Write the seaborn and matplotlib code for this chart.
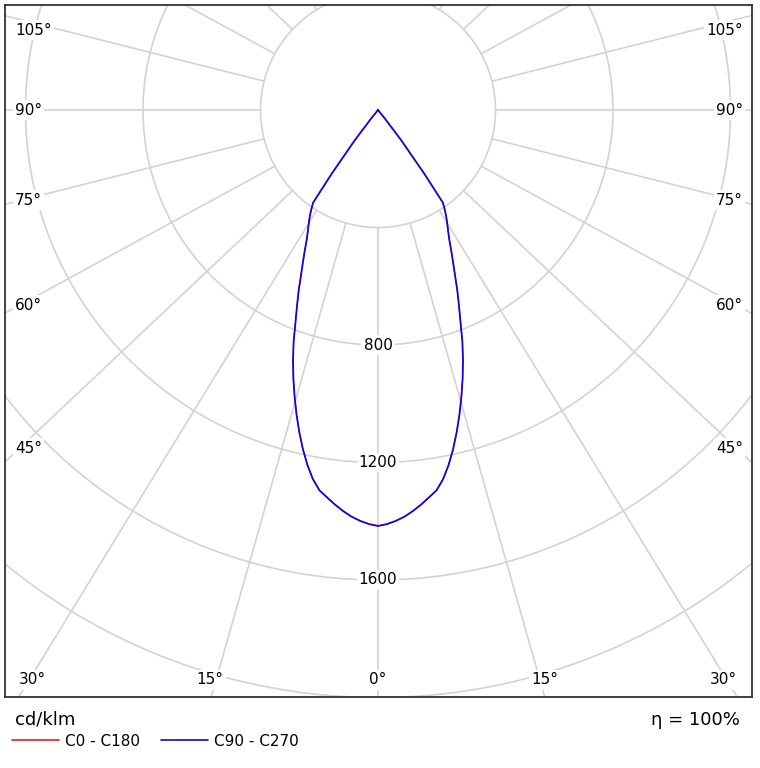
import numpy as np
import pandas as pd
import seaborn as sns
import matplotlib.pyplot as plt
from matplotlib.lines import Line2D

# ==========================================
# Data (cd/klm vs. gamma angle from nadir)
# ==========================================
GAMMA = [0, 1.25, 2.5, 3.75, 5, 6.25, 7.5, 8.75, 10, 11.25, 12.5, 13.75,
         15, 16.25, 17.5, 18.75, 20, 21.25, 22.5, 23.75, 25, 26.25, 27.5,
         28.75, 30, 31.25, 32.5, 33.75, 35, 36, 37.5, 39, 40, 45, 60, 90,
         120, 150, 180]
I_C0_C180 = [1416, 1410, 1400, 1387, 1370, 1351, 1330, 1310, 1276, 1232,
             1182, 1128, 1072, 1015, 958, 900, 840, 775, 720, 670, 620, 578,
             540, 505, 478, 455, 433, 410, 385, 268, 130, 35, 0, 0, 0, 0, 0,
             0, 0]
I_C90_C270 = [1416, 1410, 1400, 1387, 1370, 1351, 1330, 1310, 1276, 1232,
              1182, 1128, 1072, 1015, 958, 900, 840, 775, 720, 670, 620, 578,
              540, 505, 478, 455, 433, 410, 385, 268, 130, 35, 0, 0, 0, 0, 0,
              0, 0]

PLANES = ['C0 - C180', 'C90 - C270']
COLORS = {'C0 - C180': '#e02020', 'C90 - C270': '#2000e0'}
WIDTHS = {'C0 - C180': 0.8, 'C90 - C270': 1.3}

RINGS = [400, 800, 1200, 1600, 2000]
RING_LABELS = ['800', '1200', '1600']
SPOKES = np.arange(0, 360, 15)

SIDE_LABELS = ['105°', '90°', '75°', '60°', '45°']
SIDE_Y_PX = [30, 110, 200, 305, 448]
BOTTOM_LABELS = ['30°', '15°', '0°', '15°', '30°']
BOTTOM_X_PX = [32, 210, 378, 545, 723]

# ==========================================
# Layout (pixels of a 760x768 canvas)
# ==========================================
W, H = 760, 768
CX, CY = 378, 110            # pole position
S = 117.5 / 400              # px per cd/klm
FRAME = (5, 5, 752, 697)     # left, top, right, bottom
STRETCH = 1.06               # spokes are drawn slightly widened
GRID = '#d3d3d3'
FS = 11


def px_to_data(px, py):
    return (px - CX) / S, -(py - CY) / S


sns.set_style('white')
plt.rcParams['font.family'] = ['DejaVu Sans']
plt.rcParams['text.color'] = 'black'

fig = plt.figure(figsize=(W / 100, H / 100), dpi=100)
l, t, r, b = FRAME
ax = fig.add_axes([l / W, 1 - b / H, (r - l) / W, (b - t) / H])
x0, y1 = px_to_data(l, t)
x1, y0 = px_to_data(r, b)
ax.set_xlim(x0, x1)
ax.set_ylim(y0, y1)
ax.set_xticks([])
ax.set_yticks([])
for sp in ax.spines.values():
    sp.set_color('#333333')
    sp.set_linewidth(1.3)

# rings
tt = np.linspace(0, 2 * np.pi, 720)
for rr in RINGS:
    ax.plot(rr * np.sin(tt), -rr * np.cos(tt), color=GRID, lw=1.2, zorder=1)

# spokes start at the inner ring
for a in SPOKES:
    th = np.radians(a)
    d = np.array([STRETCH * np.sin(th), -np.cos(th)])
    d = d / np.hypot(*d)
    ax.plot([RINGS[0] * d[0], 4000 * d[0]], [RINGS[0] * d[1], 4000 * d[1]],
            color=GRID, lw=1.2, zorder=1)

# intensity curves: C270 half on the left, C90 half on the right
g = np.radians(GAMMA)
for plane, vals in zip(PLANES, [I_C0_C180, I_C90_C270]):
    v = np.array(vals, dtype=float)
    df = pd.DataFrame({
        'x': np.concatenate([-v[::-1] * np.sin(g[::-1]), v * np.sin(g)]),
        'y': np.concatenate([-v[::-1] * np.cos(g[::-1]), -v * np.cos(g)]),
    })
    sns.lineplot(data=df, x='x', y='y', color=COLORS[plane], sort=False,
                 estimator=None, lw=WIDTHS[plane], ax=ax, zorder=3)
ax.set_xlabel('')
ax.set_ylabel('')

box = dict(facecolor='white', edgecolor='none', pad=1.5)

# ring values along 0°
for lab in RING_LABELS:
    ax.text(0, -float(lab), lab, ha='center', va='center', fontsize=FS,
            bbox=box, zorder=4)

# angle labels on the sides
for lab, py in zip(SIDE_LABELS, SIDE_Y_PX):
    xl, yl = px_to_data(15, py)
    xr, _ = px_to_data(743, py)
    ax.text(xl, yl, lab, ha='left', va='center', fontsize=FS, bbox=box, zorder=4)
    ax.text(xr, yl, lab, ha='right', va='center', fontsize=FS, bbox=box, zorder=4)

# angle labels at the bottom
for lab, px in zip(BOTTOM_LABELS, BOTTOM_X_PX):
    xb, yb = px_to_data(px, 680)
    ax.text(xb, yb, lab, ha='center', va='center', fontsize=FS, bbox=box, zorder=4)

# footer
fig.text(15 / W, 1 - 720 / H, 'cd/klm', ha='left', va='center', fontsize=13)
fig.text(740 / W, 1 - 720 / H, 'η = 100%', ha='right', va='center', fontsize=13)
handles = [Line2D([], [], color=COLORS[p], lw=1.2) for p in PLANES]
fig.legend(handles, PLANES, loc='center left', ncol=2, frameon=False,
           bbox_to_anchor=(12 / W, 1 - 741 / H), fontsize=FS,
           handlelength=3.1, handletextpad=0.35, columnspacing=1.4,
           borderpad=0, borderaxespad=0)

fig.savefig('out.png', dpi=100)
